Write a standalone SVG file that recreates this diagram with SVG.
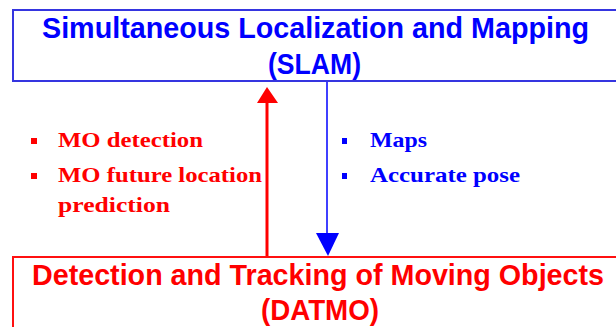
<svg xmlns="http://www.w3.org/2000/svg" width="616" height="327" viewBox="0 0 616 327">
<style>
.box{fill:#fff;stroke-width:2}
.title{font-family:"Liberation Sans",Arial,sans-serif;font-weight:bold;font-size:29px}
.item{font-family:"Liberation Serif","Times New Roman",serif;font-weight:bold;font-size:21px}
.blue{fill:#0000ff}
.red{fill:#ff0000}
</style>
<rect width="616" height="327" fill="#fff"/>
<g id="slam">
<rect class="box" x="13" y="10" width="612" height="71" stroke="#3535e0"/>
<text class="title blue" x="42" y="38" textLength="547" lengthAdjust="spacingAndGlyphs">Simultaneous Localization and Mapping</text>
<text class="title blue" x="268" y="74" textLength="93" lengthAdjust="spacingAndGlyphs">(SLAM)</text>
</g>
<g id="datmo">
<rect class="box" x="13" y="257" width="612" height="80" stroke="#ff1010"/>
<text class="title red" x="32" y="285" textLength="572" lengthAdjust="spacingAndGlyphs">Detection and Tracking of Moving Objects</text>
<text class="title red" x="261" y="320" textLength="118" lengthAdjust="spacingAndGlyphs">(DATMO)</text>
</g>
<g id="connectors">
<line x1="267" y1="256" x2="267" y2="100" stroke="#ff0000" stroke-width="3"/>
<polygon points="267,87 257,103 278,103" fill="#ff0000"/>
<line x1="327" y1="82" x2="327" y2="236" stroke="#0000ff" stroke-width="1.5"/>
<polygon points="316,233 339,233 328,256" fill="#0000ff"/>
</g>
<g id="red-labels">
<rect x="31" y="138" width="6" height="6" class="red"/>
<rect x="31" y="173" width="6" height="6" class="red"/>
<text class="item red" x="58" y="147" textLength="145" lengthAdjust="spacingAndGlyphs">MO detection</text>
<text class="item red" x="58" y="182" textLength="204" lengthAdjust="spacingAndGlyphs">MO future location</text>
<text class="item red" x="58" y="212" textLength="112" lengthAdjust="spacingAndGlyphs">prediction</text>
</g>
<g id="blue-labels">
<rect x="342" y="138" width="5" height="6" class="blue"/>
<rect x="342" y="173" width="5" height="6" class="blue"/>
<text class="item blue" x="370" y="147" textLength="57" lengthAdjust="spacingAndGlyphs">Maps</text>
<text class="item blue" x="370" y="182" textLength="150" lengthAdjust="spacingAndGlyphs">Accurate pose</text>
</g>
</svg>
